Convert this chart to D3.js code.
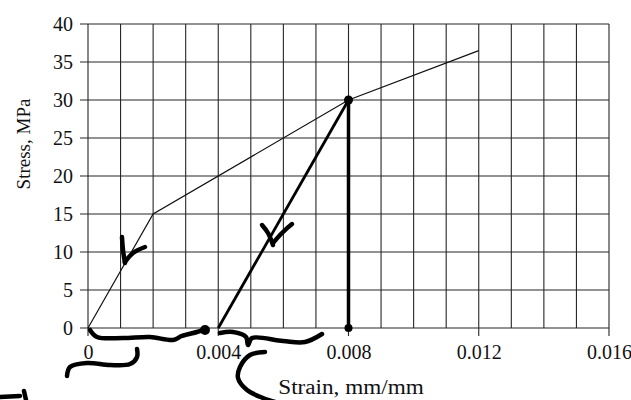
<!DOCTYPE html>
<html><head><meta charset="utf-8">
<script src="https://cdn.jsdelivr.net/npm/d3@7"></script>
<style>html,body{margin:0;padding:0;background:#fff;}svg{display:block;}</style>
</head><body>
<script>
// ---- data ----
const curveStrain = [0, 0.002, 0.008, 0.012];
const curveStress = [0, 15, 30, 36.5];
const unloadStrain = [0.008, 0.004];
const unloadStress = [30, 0];
const dropStrain = [0.008, 0.008];
const dropStress = [30, 0];
const xTickValues = [0, 0.004, 0.008, 0.012, 0.016];
const xTickLabels = ["0", "0.004", "0.008", "0.012", "0.016"];
const yTickValues = [0, 5, 10, 15, 20, 25, 30, 35, 40];
const xGridValues = d3.range(0, 17).map(i => i / 1000);
// handwritten pen marks (data units: strain, stress)
const penStrokes = [
  [[0.001044,11.97],[0.001075,10.26],[0.001136,8.55]],
  [[0.001136,8.68],[0.001382,9.87],[0.001750,10.66]],
  [[0.005344,13.55],[0.005528,12.50],[0.005681,10.92]],
  [[0.005681,11.18],[0.005958,12.50],[0.006265,13.68]],
  [[0.000061,-0.26],[0.000276,-1.18],[0.001075,-1.32],[0.001904,-1.18],[0.002610,-1.58],[0.002887,-1.05],[0.003347,-0.53],[0.003532,-0.26]],
  [[0.004054,-0.66],[0.004453,-0.53],[0.004852,-1.18],[0.004914,-2.24],[0.005037,-1.32],[0.005988,-1.71],[0.006664,-1.84],[0.007186,-0.79]],
  [[-0.000645,-6.32],[-0.000553,-5.13],[-0.000031,-4.61],[0.000676,-4.87],[0.001290,-4.74],[0.001505,-3.82],[0.001505,-2.76]],
  [[0.005436,-3.16],[0.004975,-3.55],[0.004668,-5.13],[0.004607,-6.58],[0.004883,-8.16],[0.005374,-9.21],[0.005743,-9.74]],
  [[-0.001966,-8.29],[-0.001904,-9.47]],
  [[-0.002703,-9.08],[-0.002088,-8.95]]
];
const penDots = [[0.003593,-0.26]];

// ---- chart ----
const W = 631, H = 400;
const x = d3.scaleLinear().domain([0, 0.016]).range([88, 609]);
const y = d3.scaleLinear().domain([0, 40]).range([328, 24]);

const svg = d3.select("body").append("svg").attr("width", W).attr("height", H);
const font = "'Liberation Serif','Times New Roman',serif";
const gridColor = "#262626";

// vertical grid
svg.append("g").selectAll("line").data(xGridValues).join("line")
  .attr("x1", d => x(d)).attr("x2", d => x(d))
  .attr("y1", y(40)).attr("y2", d => xTickValues.some(t => Math.abs(t - d) < 1e-9) ? y(0) + 8 : y(0))
  .attr("stroke", gridColor).attr("stroke-width", 1.1);
// horizontal grid
svg.append("g").selectAll("line").data(yTickValues).join("line")
  .attr("x1", x(0) - 8).attr("x2", x(0.016))
  .attr("y1", d => y(d)).attr("y2", d => y(d))
  .attr("stroke", gridColor).attr("stroke-width", 1.1);

// axes labels
const xAxis = d3.axisBottom(x).tickValues(xTickValues).tickFormat((d, i) => xTickLabels[i]).tickSize(0).tickPadding(0);
const gx = svg.append("g").attr("transform", `translate(0,${y(0)})`).call(xAxis);
gx.select(".domain").remove();
gx.selectAll("text").attr("y", 31).attr("dy", 0).attr("font-family", font).attr("font-size", 20).attr("fill", "#111");

const yAxis = d3.axisLeft(y).tickValues(yTickValues).tickSize(0).tickPadding(0);
const gy = svg.append("g").attr("transform", `translate(${x(0) - 15},0)`).call(yAxis);
gy.select(".domain").remove();
gy.selectAll("text").attr("x", 0).attr("dy", "0.33em").attr("font-family", font).attr("font-size", 20).attr("fill", "#111");

svg.append("text").attr("transform", "translate(351,394) scale(1.16,1)").attr("text-anchor", "middle")
  .attr("font-family", font).attr("font-size", 20).attr("fill", "#111")
  .text("Strain, mm/mm");
svg.append("text").attr("transform", "translate(30,144) rotate(-90)").attr("text-anchor", "middle")
  .attr("font-family", font).attr("font-size", 19).attr("fill", "#111")
  .text("Stress, MPa");

// data lines
const line = d3.line().x(d => x(d[0])).y(d => y(d[1]));
svg.append("path").datum(curveStrain.map((s, i) => [s, curveStress[i]]))
  .attr("d", line).attr("fill", "none").attr("stroke", "#111").attr("stroke-width", 1.2);
svg.append("path").datum(unloadStrain.map((s, i) => [s, unloadStress[i]]))
  .attr("d", line).attr("fill", "none").attr("stroke", "#000").attr("stroke-width", 2.8);
svg.append("path").datum(dropStrain.map((s, i) => [s, dropStress[i]]))
  .attr("d", line).attr("fill", "none").attr("stroke", "#000").attr("stroke-width", 3.5);
svg.append("circle").attr("cx", x(dropStrain[0])).attr("cy", y(dropStress[0])).attr("r", 4.5).attr("fill", "#000");
svg.append("circle").attr("cx", x(dropStrain[1])).attr("cy", y(dropStress[1])).attr("r", 4).attr("fill", "#000");

// pen marks
const pen = d3.line().x(d => x(d[0])).y(d => y(d[1])).curve(d3.curveCatmullRom);
svg.append("g").selectAll("path").data(penStrokes).join("path")
  .attr("d", pen).attr("fill", "none").attr("stroke", "#000")
  .attr("stroke-width", 4.5).attr("stroke-linecap", "round").attr("stroke-linejoin", "round");
svg.append("g").selectAll("circle").data(penDots).join("circle")
  .attr("cx", d => x(d[0])).attr("cy", d => y(d[1])).attr("r", 5).attr("fill", "#000");
</script>
</body></html>
